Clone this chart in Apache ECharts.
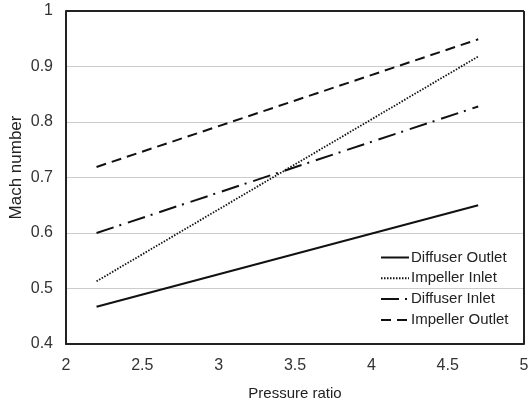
<!DOCTYPE html>
<html><head><meta charset="utf-8">
<script src="https://cdn.jsdelivr.net/npm/echarts@6/dist/echarts.min.js"></script>
<style>html,body{margin:0;padding:0;background:#fff}#c{width:530px;height:402px}</style>
</head><body><div id="c"></div>
<script>
var xStart = 2.2, xEnd = 4.7;
var seriesNames = ['Diffuser Outlet', 'Impeller Inlet', 'Diffuser Inlet', 'Impeller Outlet'];
var diffuserOutlet = [0.467, 0.650];
var impellerInlet = [0.513, 0.918];
var diffuserInlet = [0.600, 0.828];
var impellerOutlet = [0.719, 0.949];
var xValues = [xStart, xEnd];

var values = [diffuserOutlet, impellerInlet, diffuserInlet, impellerOutlet];
var dashTypes = ['solid', [1.5, 1.5], [18, 6, 2, 7], [10, 6]];
var widths = [2, 1.8, 2, 2];

var chart = echarts.init(document.getElementById('c'));
var FONT = 'Liberation Sans';
chart.setOption({
  animation: false,
  grid: {left: 66, right: 6, top: 11, bottom: 58, containLabel: false, outerBoundsMode: 'none'},
  xAxis: {
    type: 'value', min: 2, max: 5, interval: 0.5,
    name: 'Pressure ratio', nameLocation: 'middle', nameGap: 42,
    nameTextStyle: {color: '#222', fontSize: 15, fontFamily: FONT},
    axisLine: {lineStyle: {color: '#222', width: 2}},
    axisTick: {show: false},
    axisLabel: {color: '#333', fontSize: 16, fontFamily: FONT, margin: 14},
    splitLine: {show: false}
  },
  yAxis: {
    type: 'value', min: 0.4, max: 1, interval: 0.1,
    name: 'Mach number', nameLocation: 'middle', nameGap: 41, nameRotate: 90,
    nameMoveOverlap: false,
    nameTextStyle: {color: '#222', fontSize: 17, fontFamily: FONT, padding: [0, 0, 0, 20]},
    axisLine: {show: true, lineStyle: {color: '#222', width: 2}},
    axisTick: {show: false},
    axisLabel: {color: '#333', fontSize: 16, fontFamily: FONT, margin: 13,
      formatter: function (v) { return +v.toFixed(1) + ''; }},
    splitLine: {show: true, lineStyle: {color: '#cccccc', width: 1}}
  },
  legend: {
    data: seriesNames, orient: 'vertical', left: 375, top: 245,
    itemWidth: 28, itemHeight: 10, itemGap: 5.8,
    itemStyle: {opacity: 0},
    textStyle: {color: '#222', fontSize: 15, fontFamily: FONT, padding: [0,0,0,-3]}
  },
  series: seriesNames.map(function (n, i) {
    return {
      name: n, type: 'line', symbol: 'none', showSymbol: false,
      data: xValues.map(function (x, j) { return [x, values[i][j]]; }),
      lineStyle: {color: '#111', width: widths[i], type: dashTypes[i]},
      itemStyle: {color: '#111'}
    };
  }).concat([{
    type: 'line', silent: true, symbol: 'none', data: [],
    markLine: {silent: true, symbol: 'none', label: {show: false},
      lineStyle: {color: '#222', width: 2, type: 'solid'},
      data: [[{coord: [2, 1]}, {coord: [5, 1]}], [{coord: [5, 0.4]}, {coord: [5, 1]}]]}
  }])
});
</script></body></html>
